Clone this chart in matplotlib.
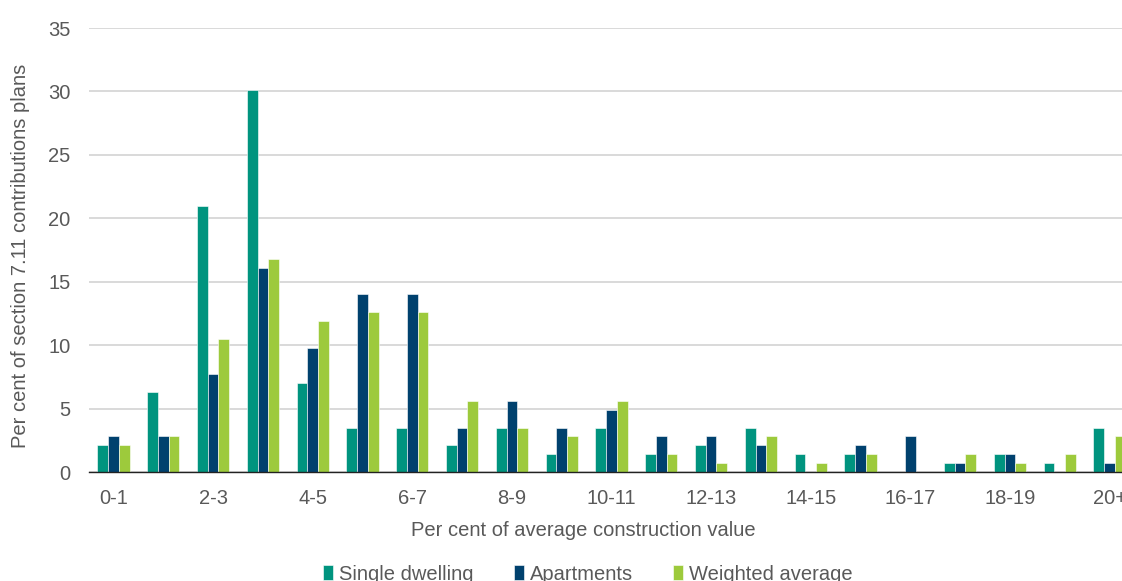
import matplotlib
matplotlib.use("Agg")
import matplotlib.pyplot as plt
import numpy as np

plt.rcParams['font.family'] = ['Liberation Sans', 'DejaVu Sans']

categories = ["0-1", "1-2", "2-3", "3-4", "4-5", "5-6", "6-7", "7-8", "8-9", "9-10",
              "10-11", "11-12", "12-13", "13-14", "14-15", "15-16", "16-17", "17-18",
              "18-19", "19-20", "20+"]
single_dwelling = [2.1, 6.3, 21.0, 30.1, 7.0, 3.5, 3.5, 2.1, 3.5, 1.4,
                   3.5, 1.4, 2.1, 3.5, 1.4, 1.4, 0.0, 0.7, 1.4, 0.7, 3.5]
apartments = [2.8, 2.8, 7.7, 16.1, 9.8, 14.0, 14.0, 3.5, 5.6, 3.5,
              4.9, 2.8, 2.8, 2.1, 0.0, 2.1, 2.8, 0.7, 1.4, 0.0, 0.7]
weighted_average = [2.1, 2.8, 10.5, 16.8, 11.9, 12.6, 12.6, 5.6, 3.5, 2.8,
                    5.6, 1.4, 0.7, 2.8, 0.7, 1.4, 0.0, 1.4, 0.7, 1.4, 2.8]
series_names = ["Single dwelling", "Apartments", "Weighted average"]
y_ticks = [0, 5, 10, 15, 20, 25, 30, 35]

colors = ["#00947F", "#00416E", "#9DCA3C"]
text_color = "#595959"
fs = 14.5

W, H = 1122, 581
fig = plt.figure(figsize=(W / 100, H / 100), dpi=100)
left_px, right_px = 88.6, 1134.4
top_px, bottom_px = 28, 472
ax = fig.add_axes([left_px / W, (H - bottom_px) / H,
                   (right_px - left_px) / W, (bottom_px - top_px) / H])

x = np.arange(len(categories))
bw = 0.215
for i, (vals, name) in enumerate(zip([single_dwelling, apartments, weighted_average], series_names)):
    ax.bar(x + (i - 1) * bw, vals, width=bw, color=colors[i], label=name,
           edgecolor="white", linewidth=0.4, zorder=3)

ax.set_xlim(-0.5, len(categories) - 0.5)
ax.set_ylim(0, 35)
ax.set_yticks(y_ticks)
ax.set_yticklabels([str(t) for t in y_ticks])
ax.set_xticks(x[::2])
ax.set_xticklabels(categories[::2])
ax.tick_params(axis="both", length=0, labelsize=fs, colors=text_color)
ax.tick_params(axis="y", pad=13)
ax.tick_params(axis="x", pad=12)

ax.grid(axis="y", color="#D9D9D9", linewidth=1.4, zorder=0)
for s in ["top", "right", "left"]:
    ax.spines[s].set_visible(False)
ax.spines["bottom"].set_color("#222222")
ax.spines["bottom"].set_linewidth(1.0)
ax.spines["bottom"].set_zorder(4)

fig.text(583 / W, 1 - 530 / H, "Per cent of average construction value",
         ha="center", va="center", fontsize=fs, color=text_color)
fig.text(21 / W, 1 - 256 / H, "Per cent of section 7.11 contributions plans",
         ha="center", va="center", rotation=90, fontsize=fs, color=text_color)

fig.legend(loc="center", bbox_to_anchor=(588 / W, 1 - 574 / H), ncol=3,
           frameon=False, fontsize=fs, handlelength=0.5, handleheight=0.7,
           handletextpad=0.3, columnspacing=2.0, labelcolor=text_color)

fig.savefig("out.png", dpi=100)
